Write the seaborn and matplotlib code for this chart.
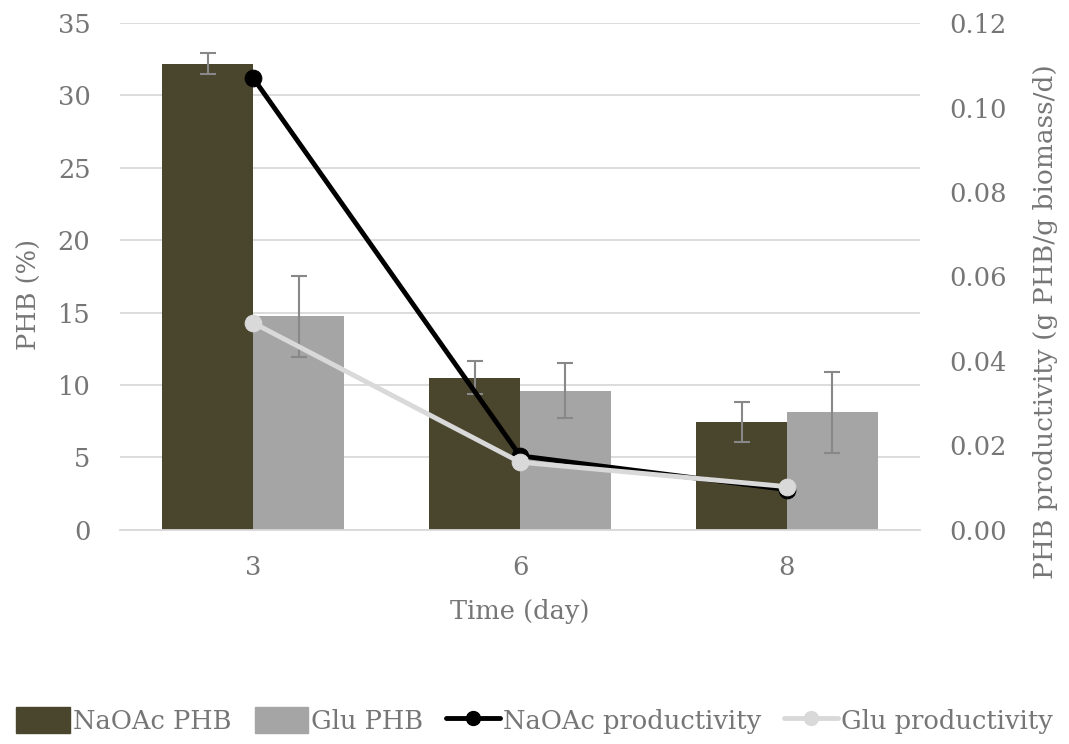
import numpy as np
import pandas as pd
import matplotlib
matplotlib.use("Agg")
import matplotlib.pyplot as plt
import seaborn as sns
from matplotlib.lines import Line2D
from matplotlib.patches import Patch

# === Data ===
days = ["3", "6", "8"]
naoac_phb = [32.2, 10.5, 7.45]
naoac_phb_err = [0.7, 1.15, 1.37]
glu_phb = [14.75, 9.6, 8.1]
glu_phb_err = [2.8, 1.9, 2.82]
naoac_prod = [0.107, 0.0175, 0.0095]
glu_prod = [0.049, 0.016, 0.0102]

C_NAOAC = "#4a452d"
C_GLU = "#a5a5a5"
C_LIGHT = "#d9d9d9"
C_TEXT = "#767676"
FS = 18.5

sns.set_style("white")
plt.rcParams["font.family"] = ["DejaVu Serif"]
plt.rcParams["font.size"] = FS

bars = pd.DataFrame({
    "day": days * 2,
    "phb": naoac_phb + glu_phb,
    "err": naoac_phb_err + glu_phb_err,
    "series": ["NaOAc PHB"] * 3 + ["Glu PHB"] * 3,
})

fig = plt.figure(figsize=(10.69, 7.44), dpi=100)
ax = fig.add_axes([0.112, 0.288, 0.749, 0.681])

sns.barplot(data=bars, x="day", y="phb", hue="series", order=days,
            hue_order=["NaOAc PHB", "Glu PHB"],
            palette=[C_NAOAC, C_GLU], width=0.68, errorbar=None,
            saturation=1, legend=False, linewidth=0, ax=ax, zorder=2)

# error bars at bar centres
for patch, (_, row) in zip(ax.patches, bars.iterrows()):
    cx = patch.get_x() + patch.get_width() / 2
    ax.errorbar(cx, row["phb"], yerr=row["err"], fmt="none",
                ecolor="#888888", elinewidth=1.5, capsize=6, capthick=1.5, zorder=3)

ax.set_ylim(0, 35)
ax.set_yticks(np.arange(0, 36, 5))
ax.set_xlim(-0.5, 2.5)
ax.yaxis.grid(True, color=C_LIGHT, linewidth=1.3, zorder=0)
ax.set_axisbelow(True)
for s in ["top", "right", "left"]:
    ax.spines[s].set_visible(False)
ax.spines["bottom"].set_color(C_LIGHT)
ax.spines["bottom"].set_linewidth(1.3)
ax.tick_params(length=0, colors=C_TEXT, labelsize=FS)
ax.tick_params(axis="x", pad=18)
ax.tick_params(axis="y", pad=21)
ax.set_xlabel("Time (day)", color=C_TEXT, fontsize=FS, labelpad=14)
ax.set_ylabel("PHB (%)", color=C_TEXT, fontsize=FS)
ax.yaxis.set_label_coords(-0.0975, 0.464)

# productivity lines on the secondary axis
ax2 = ax.twinx()
pos = np.arange(len(days))
sns.lineplot(x=pos, y=naoac_prod, color="black", linewidth=3.5, marker="o",
             markersize=12, markeredgecolor="black", ax=ax2, zorder=4)
sns.lineplot(x=pos, y=glu_prod, color=C_LIGHT, linewidth=3.5, marker="o",
             markersize=12, markeredgecolor=C_LIGHT, ax=ax2, zorder=5)
ax2.set_ylim(0, 0.12)
ax2.set_yticks(np.arange(0, 0.121, 0.02))
ax2.set_yticklabels([f"{v:.2f}" for v in np.arange(0, 0.121, 0.02)])
ax2.set_xlim(-0.5, 2.5)
for s in ax2.spines.values():
    s.set_visible(False)
ax2.tick_params(length=0, colors=C_TEXT, labelsize=FS, pad=21)
ax2.set_ylabel("PHB productivity (g PHB/g biomass/d)", color=C_TEXT, fontsize=19)
ax2.yaxis.set_label_coords(1.14, 0.41)

handles = [
    Patch(color=C_NAOAC, label="NaOAc PHB"),
    Patch(color=C_GLU, label="Glu PHB"),
    Line2D([], [], color="black", lw=3.5, marker="o", ms=10, label="NaOAc productivity"),
    Line2D([], [], color=C_LIGHT, lw=3.5, marker="o", ms=10, label="Glu productivity"),
]
leg = fig.legend(handles=handles, loc="center", bbox_to_anchor=(0.5, 0.032), ncol=4,
                 frameon=False, fontsize=FS, handlelength=2.1, handleheight=1.2,
                 handletextpad=0.1, columnspacing=0.9)
for t in leg.get_texts():
    t.set_color(C_TEXT)

fig.savefig("out.png", dpi=100)
